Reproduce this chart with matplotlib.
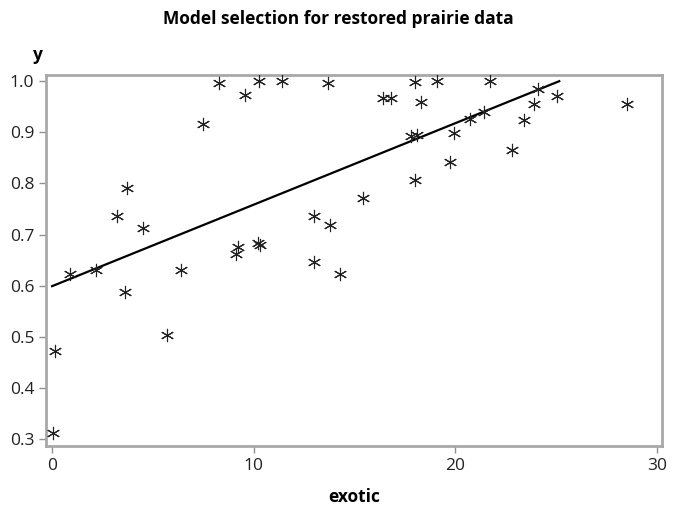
import numpy as np
import matplotlib
matplotlib.use("Agg")
import matplotlib.pyplot as plt

plt.rcParams['font.family'] = ['Open Sans', 'DejaVu Sans']

exotic = [0.05, 0.15, 0.9, 2.2, 3.2, 3.7, 3.6, 4.5, 5.7, 6.4,
          7.5, 8.3, 9.55, 10.25, 9.1, 9.2, 10.2, 10.3, 11.4, 13.7,
          13.0, 13.0, 13.8, 14.3, 15.4, 16.4, 16.8, 18.0, 18.3, 17.8,
          18.1, 18.0, 19.1, 19.75, 19.95, 20.7, 21.4, 21.7, 22.8, 23.4,
          23.9, 24.1, 25.05, 28.5]
y = [0.312, 0.472, 0.623, 0.631, 0.737, 0.792, 0.588, 0.712, 0.503, 0.631,
     0.916, 0.996, 0.973, 1.0, 0.662, 0.676, 0.684, 0.680, 1.0, 0.996,
     0.737, 0.647, 0.719, 0.623, 0.772, 0.967, 0.967, 0.998, 0.959, 0.893,
     0.894, 0.806, 1.0, 0.841, 0.898, 0.926, 0.939, 1.0, 0.865, 0.924,
     0.955, 0.984, 0.971, 0.955]

# fitted line end points
fit_x = [0.0, 25.15]
fit_y = [0.599, 1.0]

xticks = [0, 10, 20, 30]
yticks = [0.3, 0.4, 0.5, 0.6, 0.7, 0.8, 0.9, 1.0]

fig = plt.figure(figsize=(6.77, 5.14), dpi=100)
ax = fig.add_axes([0.068, 0.132, 0.910, 0.722])

ax.plot(fit_x, fit_y, color='black', lw=1.6, zorder=2)
ax.plot(exotic, y, linestyle='none', marker=(6, 2, 0), ms=9.5, mew=0.8,
        color='#222222', zorder=3)

ax.set_xlim(-0.3, 30.25)
ax.set_ylim(0.286, 1.012)
ax.set_xticks(xticks)
ax.set_yticks(yticks)
ax.set_xticklabels([str(t) for t in xticks])
ax.set_yticklabels([f"{t:.1f}" for t in yticks])
ax.tick_params(labelsize=12.5, length=5, width=1, color='#909090',
               labelcolor='#222222')

for s in ax.spines.values():
    s.set_color('#a8a8a8')
    s.set_linewidth(2)

ax.set_xlabel('exotic', fontsize=12.5, fontweight='bold', labelpad=10)
fig.text(0.056, 0.893, 'y', fontsize=12.5, fontweight='bold', ha='center', va='center')
fig.text(0.5, 0.963, 'Model selection for restored prairie data', fontsize=12.5,
         fontweight='bold', ha='center', va='center')

fig.savefig('out.png', dpi=100)
